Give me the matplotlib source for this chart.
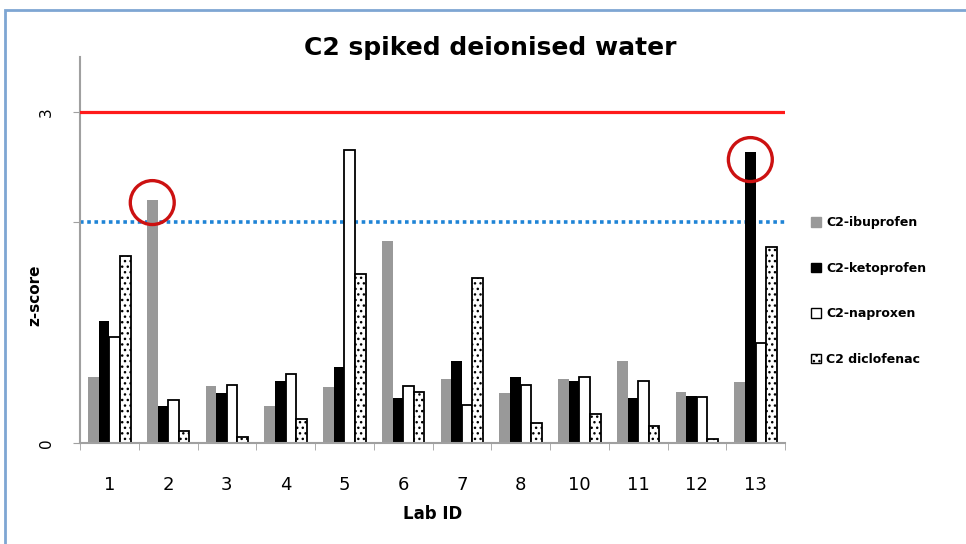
import numpy as np
import matplotlib
matplotlib.use("Agg")
import matplotlib.pyplot as plt
from matplotlib.patches import Patch, Rectangle

# values
lab_ids = ["1", "2", "3", "4", "5", "6", "7", "8", "10", "11", "12", "13"]
ibuprofen = [0.60, 2.20, 0.52, 0.335, 0.505, 1.83, 0.58, 0.45, 0.58, 0.74, 0.46, 0.555]
ketoprofen = [1.11, 0.335, 0.45, 0.565, 0.69, 0.41, 0.74, 0.595, 0.565, 0.41, 0.425, 2.64]
naproxen = [0.96, 0.39, 0.53, 0.625, 2.66, 0.52, 0.345, 0.53, 0.595, 0.565, 0.42, 0.905]
diclofenac = [1.70, 0.11, 0.05, 0.22, 1.53, 0.46, 1.50, 0.185, 0.26, 0.15, 0.035, 1.78]
series_names = ["C2-ibuprofen", "C2-ketoprofen", "C2-naproxen", "C2 diclofenac"]
action_limit = 3.0
warning_limit = 2.0
# flagged results: (lab index, series index, circle centre value)
flagged = [(1, 0, 2.18), (11, 1, 2.57)]

fig = plt.figure(figsize=(9.66, 5.44), dpi=100)
ax = fig.add_axes([80 / 966, 1 - 443 / 544, 705 / 966, 386 / 544])

x = np.arange(len(lab_ids))
w = 0.18
offs = np.array([-1.5, -0.5, 0.5, 1.5]) * w
ax.bar(x + offs[0], ibuprofen, w, color="#999999", zorder=2)
ax.bar(x + offs[1], ketoprofen, w, color="black", zorder=2)
ax.bar(x + offs[2], naproxen, w, color="white", edgecolor="black", linewidth=1.3, zorder=2)
ax.bar(x + offs[3], diclofenac, w, color="white", edgecolor="black", linewidth=1.3,
       hatch="...", zorder=2)

ax.axhline(action_limit, color="#ff1a1a", linewidth=2.3, zorder=3)
ax.axhline(warning_limit, color="#1f84d6", linewidth=2.6, linestyle=(0, (1, 1)), zorder=1)

for i, k, v in flagged:
    ax.scatter([i + offs[k]], [v], s=1000, facecolor="none",
               edgecolor="#cc1111", linewidth=2.4, zorder=4)

ax.set_xlim(-0.5, len(lab_ids) - 0.5)
ax.set_ylim(0, 3.5)
ax.set_xticks(x)
ax.set_xticklabels(lab_ids, fontsize=13)
ax.set_xticks(np.arange(-0.5, len(lab_ids)), minor=True)
ax.tick_params(axis="x", which="major", length=0, pad=24)
ax.tick_params(axis="x", which="minor", length=5, color="#a0a0a0")
ax.set_yticks([0, 2, 3])
ax.set_yticklabels(["0", "", "3"], rotation=90, va="center", fontsize=11)
ax.tick_params(axis="y", length=5, color="#a0a0a0", pad=14)
for s in ["top", "right"]:
    ax.spines[s].set_visible(False)
for s in ["left", "bottom"]:
    ax.spines[s].set_color("#a0a0a0")
    ax.spines[s].set_linewidth(1.5)

ax.set_xlabel("Lab ID", fontsize=12, fontweight="bold", labelpad=8)
ax.set_ylabel("z-score", fontsize=11, fontweight="bold")
ax.yaxis.set_label_coords(-0.054, 0.383)
fig.text(490 / 966, 1 - 48 / 544, "C2 spiked deionised water", ha="center", va="center",
         fontsize=18, fontweight="bold")

handles = [Patch(facecolor="#999999", edgecolor="#999999"),
           Patch(facecolor="black", edgecolor="black"),
           Patch(facecolor="white", edgecolor="black"),
           Patch(facecolor="white", edgecolor="black", hatch="...")]
leg = fig.legend(handles, series_names, loc="upper left", bbox_to_anchor=(800 / 966, 1 - 205 / 544),
                 frameon=False, handlelength=0.8, handleheight=0.8, handletextpad=0.4,
                 labelspacing=2.6, prop={"size": 9, "weight": "bold"})

fig.patches.append(Rectangle((5 / 966, -0.1), 1.2, 1 - 10 / 544 + 0.1, transform=fig.transFigure,
                             fill=False, edgecolor="#7ea6d3", linewidth=2, zorder=0))

fig.savefig("out.png", dpi=100)
